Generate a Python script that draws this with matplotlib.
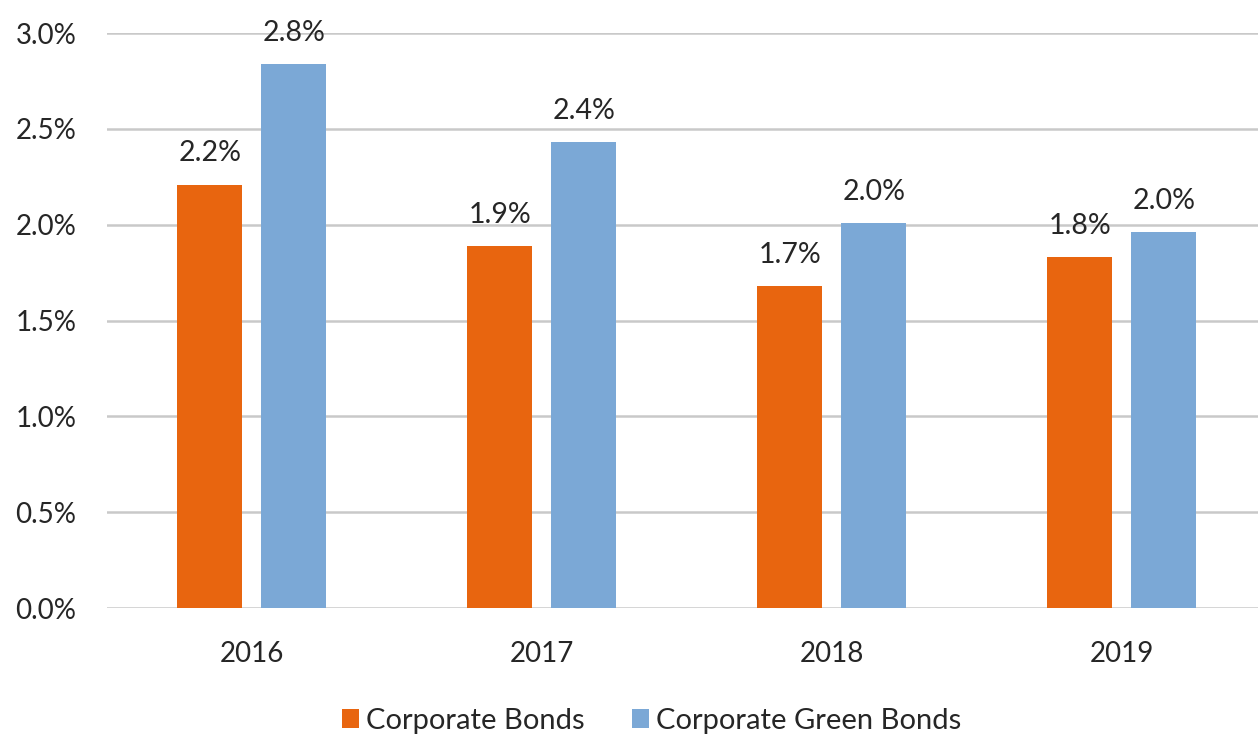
import matplotlib
matplotlib.use("Agg")
import matplotlib.pyplot as plt
import numpy as np

years = ["2016", "2017", "2018", "2019"]
corporate = [2.21, 1.89, 1.68, 1.83]
green = [2.84, 2.43, 2.01, 1.96]
series_names = ["Corporate Bonds", "Corporate Green Bonds"]
yticks = [0.0, 0.5, 1.0, 1.5, 2.0, 2.5, 3.0]

orange = "#E8650F"
blue = "#7BA8D6"
text_col = "#262626"

plt.rcParams["font.family"] = ["Lato", "DejaVu Sans"]

fig = plt.figure(figsize=(12.58, 7.37), dpi=100)
ax = fig.add_axes([0.085, 0.175, 0.922, 0.78])

x = np.arange(len(years))
w = 0.224
off = 0.145
b1 = ax.bar(x - off, corporate, w, color=orange, label=series_names[0], zorder=3)
b2 = ax.bar(x + off, green, w, color=blue, label=series_names[1], zorder=3)

for bars, vals in ((b1, corporate), (b2, green)):
    for r, v in zip(bars, vals):
        ax.annotate(f"{v:.1f}%", (r.get_x() + r.get_width() / 2, v),
                    xytext=(0, 13), textcoords="offset points",
                    ha="center", va="bottom", fontsize=20.5, color=text_col)

ax.set_xlim(-0.5, 3.5)
ax.set_ylim(0, 3.0)
ax.set_yticks(yticks)
ax.set_yticklabels([f"{t:.1f}%" for t in yticks])
ax.set_xticks(x)
ax.set_xticklabels(years)
ax.tick_params(axis="both", length=0, labelsize=20, colors=text_col)
ax.tick_params(axis="y", pad=22)
ax.tick_params(axis="x", pad=24)
ax.yaxis.grid(True, color="#C9C9C9", linewidth=1.8, zorder=0)
for s in ax.spines.values():
    s.set_visible(False)
ax.set_axisbelow(True)

fig.legend(handles=[b1, b2], labels=series_names, loc="center",
           bbox_to_anchor=(0.518, 0.022), ncol=2, frameon=False,
           fontsize=21, handlelength=0.6, handleheight=0.6,
           handletextpad=0.25, columnspacing=1.6, labelcolor=text_col)

fig.savefig("out.png", dpi=100)
